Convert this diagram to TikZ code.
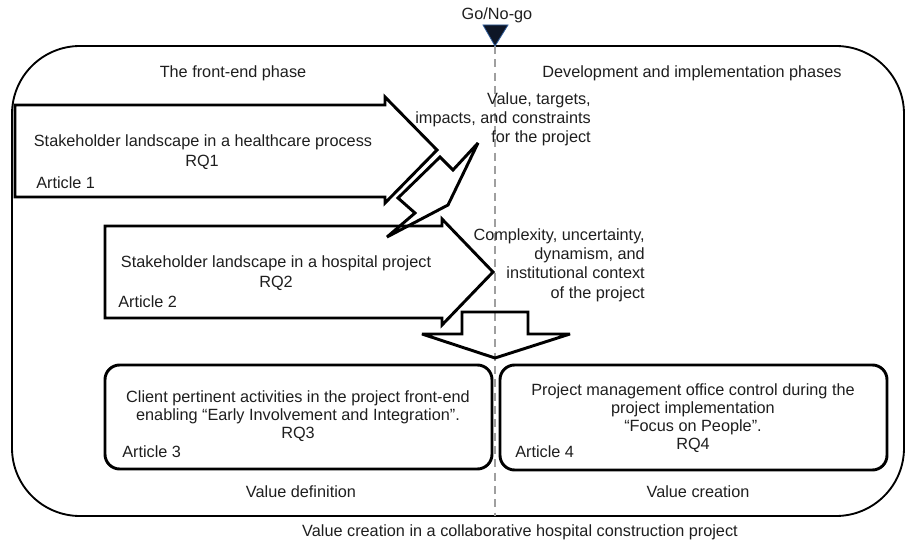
\documentclass[tikz,border=0pt]{standalone}
\usepackage{fontspec}
\setmainfont{Liberation Sans}
\definecolor{txt}{HTML}{1E1E1E}
\definecolor{gatefill}{HTML}{0E1626}
\definecolor{gateedge}{HTML}{2F5C9A}
\begin{document}
\begin{tikzpicture}[x=0.75pt,y=-0.75pt,
  every node/.style={inner sep=0pt, text=txt, font=\fontsize{12.2}{14.6}\selectfont},
  frame/.style={draw=black, line width=1.4pt, rounded corners=51pt},
  blockarrow/.style={draw=black, line width=2.2pt, line join=miter, miter limit=4},
  panel/.style={draw=black, line width=2.2pt, rounded corners=11pt},
  gate/.style={draw=gray!75, line width=0.8pt, dash pattern=on 6pt off 4pt},
  sidelabel/.style={align=right, anchor=north east},
  boxtext/.style={align=center, anchor=north, font=\fontsize{12.2}{13.5}\selectfont},
  tag/.style={anchor=west}
]
\useasboundingbox (0,0) rectangle (906,545);

% outer frame of the whole project
\draw[frame] (12,46) rectangle (904,516);

% go/no-go gate
\coordinate (gotip) at (495,46);
\coordinate (gobase) at (495,516);
\draw[gate] (gotip) -- (gobase);
\filldraw[fill=gatefill, draw=gateedge, line width=0.6pt] (483,25) -- (508,25) -- (gotip) -- cycle;
\node (go) at (497,15) {Go/No-go};

% phase headings
\node (frontend) at (233,73) {The front-end phase};
\node (devimpl) at (692,73) {Development and implementation phases};

% article 1 arrow
\draw[blockarrow] (15,105) -- (385,105) -- (385,97) -- (437,150) -- (385,203) -- (385,197) -- (15,197) -- cycle;
\node (a1title) at (203,142) {Stakeholder landscape in a healthcare process};
\node (rq1) at (202,162) {RQ1};
\node[tag] (art1) at (36,183) {Article 1};

% bent arrow between the two front-end studies
\draw[blockarrow] (440,157) -- (453,170) -- (478,143) -- (448,205) -- (387,237) -- (415,213) -- (398,198) -- cycle;

% article 2 arrow
\draw[blockarrow] (105,226) -- (442,226) -- (442,219) -- (493,272) -- (442,325) -- (442,318) -- (105,318) -- cycle;
\node (a2title) at (276,263) {Stakeholder landscape in a hospital project};
\node (rq2) at (276,283) {RQ2};
\node[tag] (art2) at (118,302) {Article 2};

% downward arrow into the value boxes
\draw[blockarrow] (462,312) -- (528,312) -- (528,334) -- (570,334) -- (495,358) -- (422,334) -- (462,334) -- cycle;

% side labels
\node[sidelabel] (values) at (591,92) {Value, targets,\\impacts, and constraints\\for the project};
\node[sidelabel] (context) at (645,228) {Complexity, uncertainty,\\dynamism, and\\institutional context\\of the project};

% article 3 and 4 boxes
\draw[panel] (105,365) rectangle (492,469);
\draw[panel] (500,365) rectangle (887,470);
\node[boxtext] (a3text) at (298,390) {Client pertinent activities in the project front-end\\enabling \textquotedblleft Early Involvement and Integration\textquotedblright.\\RQ3};
\node[tag] (art3) at (122,452) {Article 3};
\node[boxtext] (a4text) at (693,383) {Project management office control during the\\project implementation\\\textquotedblleft Focus on People\textquotedblright.\\RQ4};
\node[tag] (art4) at (515,452) {Article 4};

% value labels and caption
\node (valdef) at (301,492) {Value definition};
\node (valcre) at (698,492) {Value creation};
\node (caption) at (520,532) {Value creation in a collaborative hospital construction project};
\end{tikzpicture}
\end{document}
